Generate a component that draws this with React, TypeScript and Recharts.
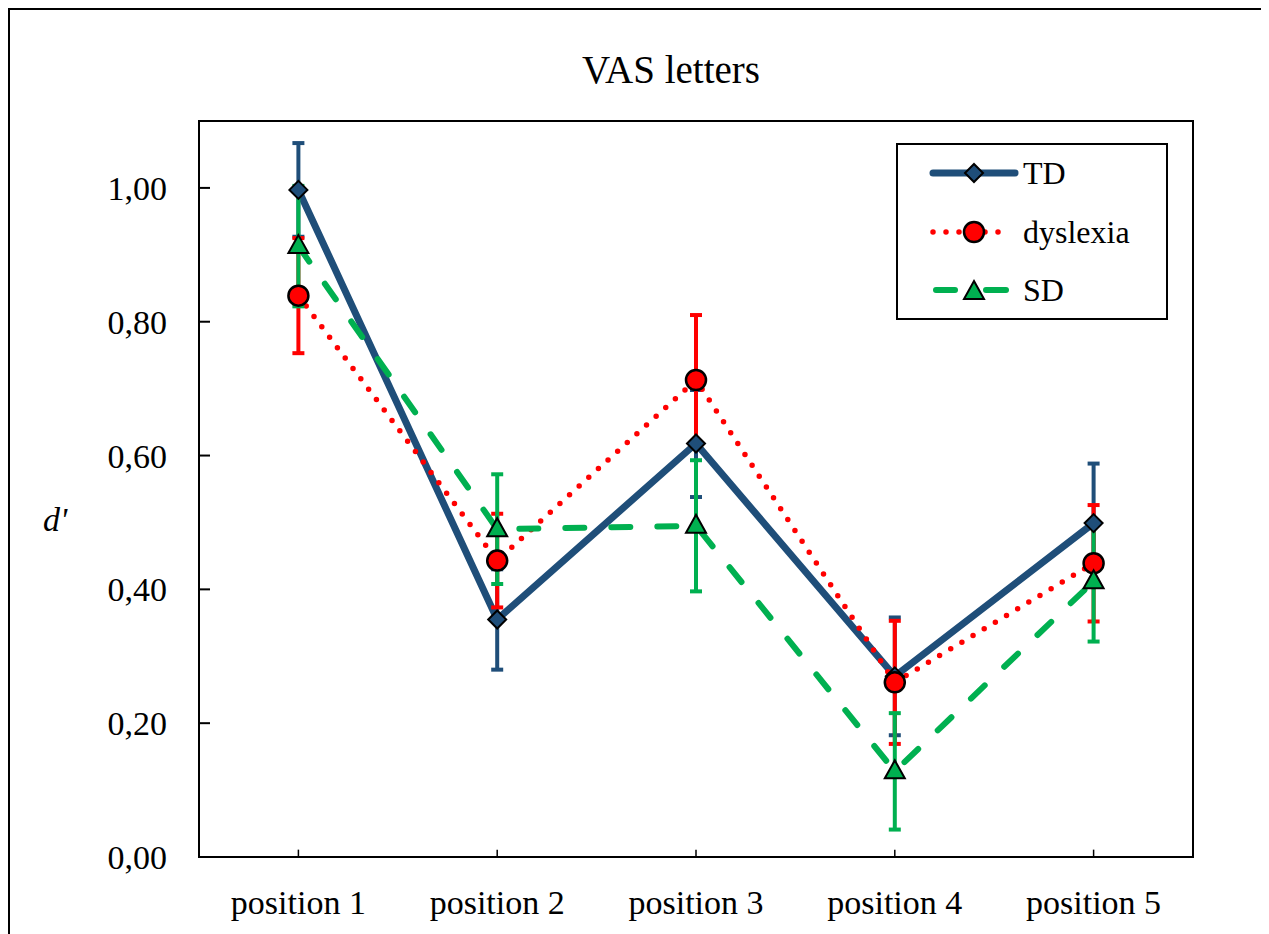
import React from 'react';
import { ComposedChart, Line, XAxis, YAxis, ErrorBar, ReferenceArea, ReferenceLine } from 'recharts';

const categories = ['position 1', 'position 2', 'position 3', 'position 4', 'position 5'];
const tdValues = [0.997, 0.355, 0.618, 0.27, 0.499];
const tdErrors = [0.07, 0.075, 0.08, 0.088, 0.089];
const dysValues = [0.839, 0.443, 0.713, 0.261, 0.439];
const dysErrors = [0.086, 0.07, 0.097, 0.092, 0.087];
const sdValues = [0.913, 0.49, 0.495, 0.128, 0.412];
const sdErrors = [0.09, 0.082, 0.098, 0.087, 0.09];
const yTicks = [0, 0.2, 0.4, 0.6, 0.8, 1.0];

const data = categories.map((c, i) => ({
  pos: c,
  td: tdValues[i],
  tdErr: tdErrors[i],
  dys: dysValues[i],
  dysErr: dysErrors[i],
  sd: sdValues[i],
  sdErr: sdErrors[i],
}));

const BLUE = '#1F4E79';
const RED = '#FF0000';
const GREEN = '#00B050';
const FONT = '"Liberation Serif", "Times New Roman", serif';

const Diamond = (props: any) => {
  const { cx, cy } = props;
  if (cx == null || cy == null) return null;
  const s = 9;
  return (
    <polygon
      points={`${cx},${cy - s} ${cx + s},${cy} ${cx},${cy + s} ${cx - s},${cy}`}
      fill={BLUE}
      stroke="#000"
      strokeWidth={2}
    />
  );
};

const CircleDot = (props: any) => {
  const { cx, cy } = props;
  if (cx == null || cy == null) return null;
  return <circle cx={cx} cy={cy} r={10} fill={RED} stroke="#000" strokeWidth={2.5} />;
};

const Triangle = (props: any) => {
  const { cx, cy } = props;
  if (cx == null || cy == null) return null;
  return (
    <polygon
      points={`${cx},${cy - 11} ${cx + 10},${cy + 7} ${cx - 10},${cy + 7}`}
      fill={GREEN}
      stroke="#000"
      strokeWidth={2}
    />
  );
};

const fmt = (v: number) => v.toFixed(2).replace('.', ',');

export default function App() {
  const W = 1260;
  const H = 926;
  return (
    <div style={{ position: 'relative', width: W, height: H, fontFamily: FONT }}>
      <div
        style={{
          position: 'absolute',
          left: 0,
          top: 0,
          width: 1258,
          height: 960,
          border: '2px solid #000',
          boxSizing: 'border-box',
        }}
      />
      <div style={{ position: 'absolute', left: 0, top: 0 }}>
        <ComposedChart
          width={W}
          height={H}
          data={data}
          margin={{ top: 113, right: 75, left: 91, bottom: 0 }}
        >
          <ReferenceArea
            y1={0}
            y2={1.1}
            fill="none"
            stroke="#000"
            strokeWidth={2}
            ifOverflow="visible"
          />
          {categories.map((c) => (
            <ReferenceLine
              key={c}
              segment={[
                { x: c, y: 0 },
                { x: c, y: 0.011 },
              ]}
              stroke="#000"
              strokeWidth={1.5}
              ifOverflow="visible"
            />
          ))}
          <XAxis
            dataKey="pos"
            type="category"
            scale="band"
            height={77}
            axisLine={{ stroke: '#000', strokeWidth: 2 }}
            tickLine={false}
            tickSize={0}
            tickMargin={33}
            tick={{ fill: '#000', fontSize: 34, fontFamily: FONT }}
            interval={0}
          />
          <YAxis
            type="number"
            domain={[0, 1.1]}
            ticks={yTicks}
            width={100}
            allowDataOverflow
            axisLine={{ stroke: '#000', strokeWidth: 2 }}
            tickLine={{ stroke: '#000', strokeWidth: 2 }}
            tickSize={-11}
            tickMargin={43}
            tickFormatter={fmt}
            tick={{ fill: '#000', fontSize: 34, fontFamily: FONT }}
          />
          <Line
            type="linear"
            dataKey="td"
            stroke={BLUE}
            strokeWidth={7}
            strokeLinecap="round"
            strokeLinejoin="round"
            dot={<Diamond />}
            activeDot={false}
            isAnimationActive={false}
          >
            <ErrorBar dataKey="tdErr" direction="y" width={6} stroke={BLUE} strokeWidth={4} />
          </Line>
          <Line
            type="linear"
            dataKey="dys"
            stroke={RED}
            strokeWidth={5.5}
            strokeDasharray="0 13"
            strokeLinecap="round"
            dot={<CircleDot />}
            activeDot={false}
            isAnimationActive={false}
          >
            <ErrorBar dataKey="dysErr" direction="y" width={6} stroke={RED} strokeWidth={4} />
          </Line>
          <Line
            type="linear"
            dataKey="sd"
            stroke={GREEN}
            strokeWidth={6}
            strokeDasharray="19 27"
            strokeLinecap="round"
            dot={<Triangle />}
            activeDot={false}
            isAnimationActive={false}
          >
            <ErrorBar dataKey="sdErr" direction="y" width={6} stroke={GREEN} strokeWidth={4} />
          </Line>
        </ComposedChart>
      </div>
      <svg
        width={W}
        height={H}
        style={{ position: 'absolute', left: 0, top: 0, pointerEvents: 'none' }}
      >
        <text x={663} y={75} textAnchor="middle" fontSize={39} fontFamily={FONT} fill="#000">
          VAS letters
        </text>
        <text x={35} y={523} fontSize={34} fontStyle="italic" fontFamily={FONT} fill="#000">
          d'
        </text>
        <g transform="translate(888,135)">
          <rect x={1} y={1} width={270} height={175} fill="#fff" stroke="#000" strokeWidth={2} />
          <line x1={37} y1={30} x2={119} y2={30} stroke={BLUE} strokeWidth={7} strokeLinecap="round" />
          <Diamond cx={78} cy={30} />
          <text x={127} y={41} fontSize={32} fontFamily={FONT} fill="#000">TD</text>
          <line
            x1={37}
            y1={89}
            x2={113}
            y2={89}
            stroke={RED}
            strokeWidth={5.5}
            strokeDasharray="0 13"
            strokeLinecap="round"
          />
          <CircleDot cx={78} cy={89} />
          <text x={127} y={100} fontSize={32} fontFamily={FONT} fill="#000">dyslexia</text>
          <line x1={40} y1={147} x2={59} y2={147} stroke={GREEN} strokeWidth={6} strokeLinecap="round" />
          <line x1={90} y1={147} x2={110} y2={147} stroke={GREEN} strokeWidth={6} strokeLinecap="round" />
          <Triangle cx={78} cy={149} />
          <text x={127} y={158} fontSize={32} fontFamily={FONT} fill="#000">SD</text>
        </g>
      </svg>
    </div>
  );
}
